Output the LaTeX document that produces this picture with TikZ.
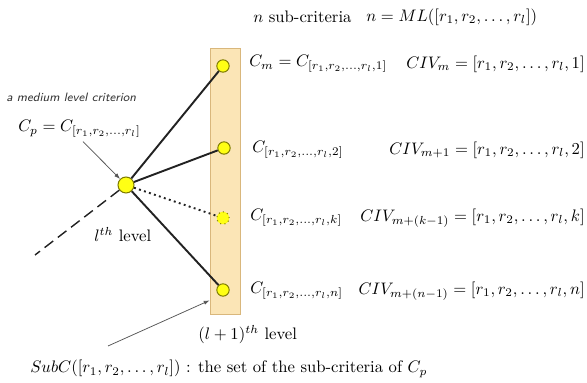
\documentclass[tikz,border=0pt]{standalone}
\usepackage{tikz}
\usetikzlibrary{arrows.meta,positioning}
\definecolor{bandfill}{HTML}{FBE5B6}
\definecolor{bandedge}{HTML}{D9B77C}
\definecolor{critfill}{HTML}{FFFF14}
\definecolor{critedge}{HTML}{7D7A00}
\definecolor{edge}{HTML}{222222}
\definecolor{pointer}{HTML}{555555}
\definecolor{note}{HTML}{333333}

\begin{document}
\begin{tikzpicture}[
  x=0.6pt,y=-0.6pt,>=Latex,
  crit/.style={circle, draw=critedge, fill=critfill, line width=0.6pt, minimum size=9.6pt, inner sep=0pt},
  sub/.style={circle, draw=critedge, fill=critfill, line width=0.6pt, minimum size=7.4pt, inner sep=0pt},
  band/.style={draw=bandedge, fill=bandfill, line width=0.5pt, minimum width=18pt, minimum height=159.6pt, inner sep=0pt},
  link/.style={draw=edge, line width=1.15pt},
  ptr/.style={draw=pointer, line width=0.45pt, -{Latex[length=3.5pt,width=2.5pt]}},
  lbl/.style={inner sep=0pt, text=black},
]
\useasboundingbox (0,0) rectangle (587,383);

% the band of sub-criteria at level l+1
\node[band] (band) at (225,181) {};

% criteria
\node[crit] (cp) at (126,185) {};
\node[sub] (c1) at (223,66) {};
\node[sub] (c2) at (224,148) {};
\node[sub, dotted] (ck) at (223,218) {};
\node[sub] (cn) at (223,290) {};
\coordinate (up) at (35,255);

% links to the parent and children
\draw[link, dash pattern=on 6.5pt off 3.5pt, line width=0.85pt] (cp) -- (up);
\draw[link] (cp) -- (c1);
\draw[link] (cp) -- (c2);
\draw[link, dotted] (cp) -- (ck);
\draw[link] (cp) -- (cn);

% top line
\node[lbl, anchor=west] (nsub) at (253,17) {$n$ sub-criteria};
\node[lbl, anchor=west] (nml) at (366,17) {$n = ML([r_1,r_2,\ldots,r_l])$};

% names and index vectors
\node[lbl, anchor=west] (n1) at (249,64) {$C_m = C_{[r_1,r_2,\ldots,r_l,1]}$};
\node[lbl, anchor=east] (v1) at (585,64) {$CIV_m = [r_1,r_2,\ldots,r_l,1]$};
\node[lbl, anchor=west] (n2) at (252,150) {$C_{[r_1,r_2,\ldots,r_l,2]}$};
\node[lbl, anchor=east] (v2) at (585,150) {$CIV_{m+1} = [r_1,r_2,\ldots,r_l,2]$};
\node[lbl, anchor=west] (nk) at (250,218) {$C_{[r_1,r_2,\ldots,r_l,k]}$};
\node[lbl, anchor=east] (vk) at (585,218) {$CIV_{m+(k-1)} = [r_1,r_2,\ldots,r_l,k]$};
\node[lbl, anchor=west] (nn) at (250,291) {$C_{[r_1,r_2,\ldots,r_l,n]}$};
\node[lbl, anchor=east] (vn) at (585,291) {$CIV_{m+(n-1)} = [r_1,r_2,\ldots,r_l,n]$};

% parent criterion
\node[lbl, anchor=west, text=note, font=\sffamily\itshape\fontsize{7.3}{9}\selectfont] (medium) at (6,97) {a medium level criterion};
\node[lbl, anchor=west] (cplbl) at (18,129) {$C_p = C_{[r_1,r_2,\ldots,r_l]}$};
\draw[ptr, shorten <=3pt] (cplbl.south) -- (cp);

% levels
\node[lbl, anchor=west] (lvl) at (94,235) {$l^{th}$ level};
\node[lbl, anchor=west] (lvlnext) at (198,335) {$(l+1)^{th}$ level};

% the set of sub-criteria
\node[lbl, anchor=west] (subset) at (30,369) {$SubC([r_1,r_2,\ldots,r_l])$ : the set of the sub-criteria of $C_p$};
\coordinate (subtail) at (108,346);
\draw[ptr] (subtail) -- ([yshift=8.4pt]band.south west);
\end{tikzpicture}
\end{document}
